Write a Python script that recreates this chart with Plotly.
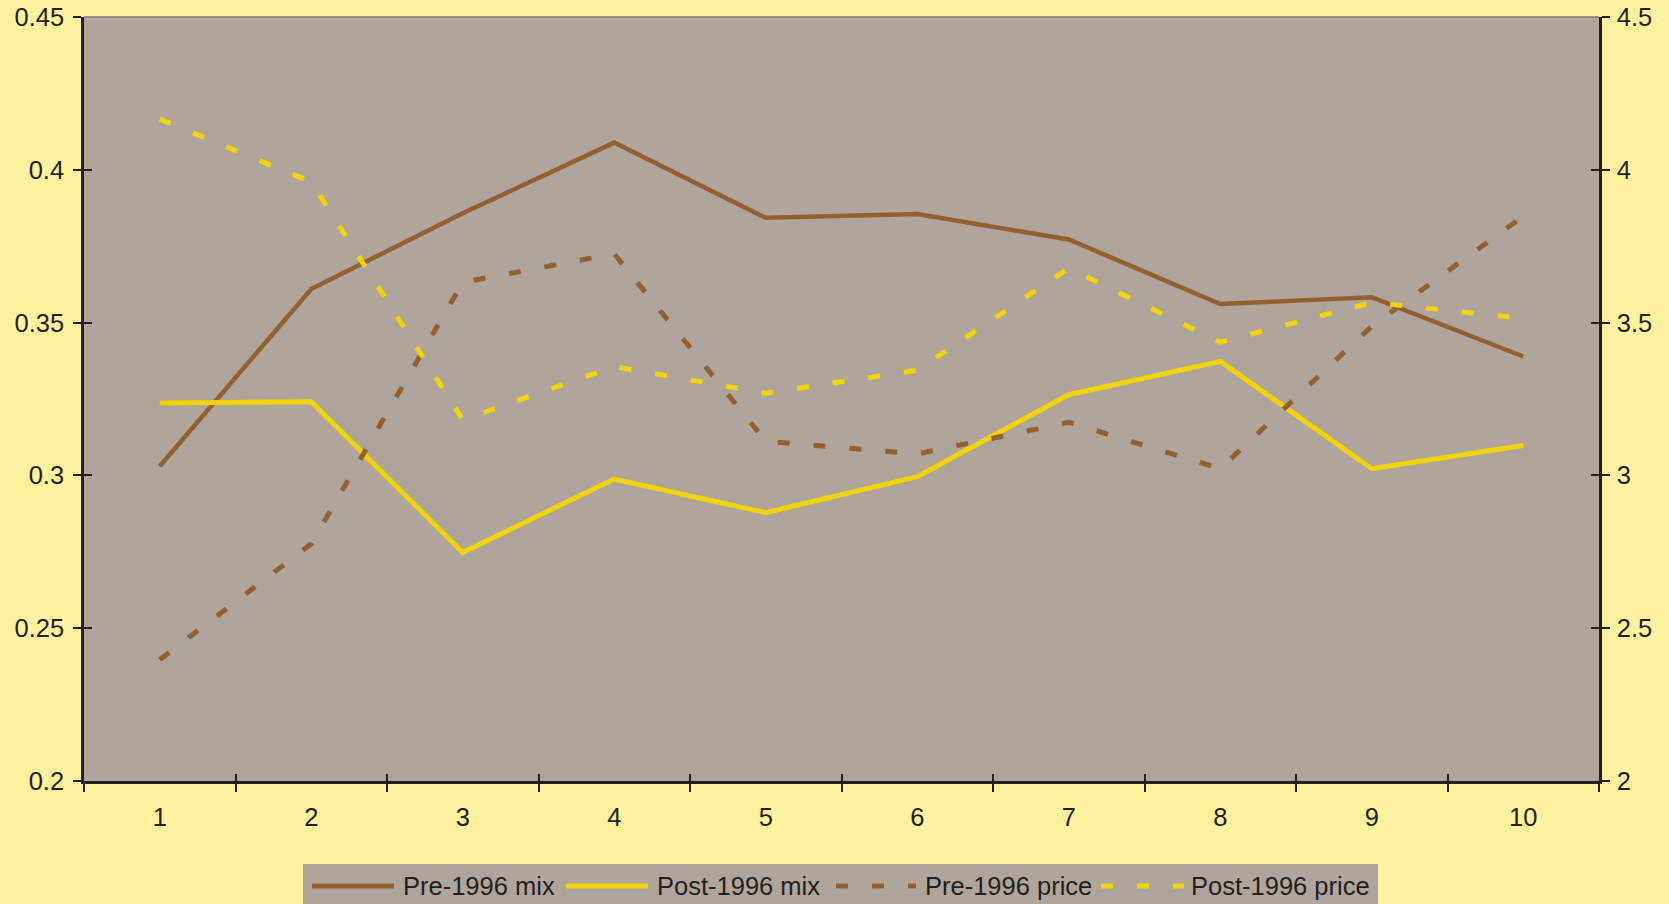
import plotly.graph_objects as go

categories = ["1", "2", "3", "4", "5", "6", "7", "8", "9", "10"]
pre_mix = [0.3030, 0.3610, 0.3858, 0.4089, 0.3843, 0.3855, 0.3772, 0.3561, 0.3583, 0.3389]
post_mix = [0.3237, 0.3241, 0.2748, 0.2988, 0.2878, 0.2996, 0.3264, 0.3373, 0.3022, 0.3098]
pre_price = [2.397, 2.776, 3.632, 3.725, 3.112, 3.070, 3.174, 3.022, 3.488, 3.848]
post_price = [4.166, 3.960, 3.182, 3.356, 3.269, 3.344, 3.678, 3.436, 3.566, 3.514]
series_names = ["Pre-1996 mix", "Post-1996 mix", "Pre-1996 price", "Post-1996 price"]
left_ticks = [0.2, 0.25, 0.3, 0.35, 0.4, 0.45]
left_labels = ["0.2", "0.25", "0.3", "0.35", "0.4", "0.45"]
right_ticks = [2, 2.5, 3, 3.5, 4, 4.5]
right_labels = ["2", "2.5", "3", "3.5", "4", "4.5"]

BROWN = "#93602F"
YELLOW = "#F2D400"
PLOT_BG = "#B0A59C"
PAPER_BG = "#FFF29E"
INK = "#231F20"
FONT = "Liberation Sans, Arial, sans-serif"
DASH = "12px,24px"
FS = 25.5

W, H = 1669, 904
ML, MR, MT, MB = 84, 70, 17, 123
PW, PH = W - ML - MR, H - MT - MB


def px_x(px):
    return (px - ML) / PW


def px_y(py):
    return (H - MB - py) / PH


fig = go.Figure()
fig.add_trace(go.Scatter(x=categories, y=pre_mix, name=series_names[0], mode="lines",
                         line=dict(color=BROWN, width=4.5), yaxis="y"))
fig.add_trace(go.Scatter(x=categories, y=post_mix, name=series_names[1], mode="lines",
                         line=dict(color=YELLOW, width=5), yaxis="y"))
fig.add_trace(go.Scatter(x=categories, y=pre_price, name=series_names[2], mode="lines",
                         line=dict(color=BROWN, width=5, dash=DASH), yaxis="y2"))
fig.add_trace(go.Scatter(x=categories, y=post_price, name=series_names[3], mode="lines",
                         line=dict(color=YELLOW, width=5, dash=DASH), yaxis="y2"))
# helper traces so the inner-tick overlay axes are drawn
fig.add_trace(go.Scatter(x=[], y=[], xaxis="x2", yaxis="y3", showlegend=False, hoverinfo="skip"))
fig.add_trace(go.Scatter(x=[], y=[], xaxis="x2", yaxis="y4", showlegend=False, hoverinfo="skip"))

tickfont = dict(family=FONT, size=FS, color=INK)
common = dict(showgrid=False, zeroline=False, automargin=False, tickwidth=2, tickcolor=INK)
fig.update_layout(
    width=W, height=H,
    margin=dict(l=ML, r=MR, t=MT, b=MB),
    paper_bgcolor=PAPER_BG, plot_bgcolor=PLOT_BG,
    showlegend=False,
    font=dict(family=FONT, size=FS, color=INK),
    xaxis=dict(type="category", categoryarray=categories, range=[-0.5, 9.5],
               tickson="boundaries", ticks="outside", ticklen=8, ticklabelstandoff=12,
               showline=True, linecolor=INK, linewidth=2.5, tickfont=tickfont, **common),
    xaxis2=dict(type="category", categoryarray=categories, range=[-0.5, 9.5],
                overlaying="x", side="bottom", tickson="boundaries", ticks="inside",
                ticklen=7, showticklabels=False, showline=False, **common),
    yaxis=dict(range=[0.2, 0.45], tickvals=left_ticks, ticktext=left_labels,
               ticks="outside", ticklen=8, ticklabelstandoff=4, showline=True,
               linecolor=INK, linewidth=2.5, tickfont=tickfont, **common),
    yaxis2=dict(range=[2, 4.5], tickvals=right_ticks, ticktext=right_labels,
                overlaying="y", side="right", ticks="outside", ticklen=8, ticklabelstandoff=2,
                showline=True, linecolor=INK, linewidth=2.5, tickfont=tickfont, **common),
    yaxis3=dict(range=[0.2, 0.45], tickvals=left_ticks, overlaying="y", side="left",
                ticks="inside", ticklen=8, showticklabels=False, showline=False, **common),
    yaxis4=dict(range=[2, 4.5], tickvals=right_ticks, overlaying="y", side="right",
                ticks="inside", ticklen=8, showticklabels=False, showline=False, **common),
)

shapes = []
# top border of plot area
shapes.append(dict(type="line", xref="paper", yref="paper", x0=0, x1=1, y0=1, y1=1,
                   line=dict(color="#7F7A76", width=1.5)))
# custom legend box
shapes.append(dict(type="rect", xref="paper", yref="paper",
                   x0=px_x(303), x1=px_x(1378), y0=px_y(864), y1=px_y(930),
                   fillcolor=PLOT_BG, line=dict(width=0), layer="below"))

legend_samples = [(312, 394, BROWN, "solid"), (566, 648, YELLOW, "solid"),
                  (836, 916, BROWN, DASH), (1101, 1184, YELLOW, DASH)]
legend_text_x = [401, 655, 923, 1189]
ly = 886
annotations = []
for (x0, x1, col, dash), tx, name in zip(legend_samples, legend_text_x, series_names):
    shapes.append(dict(type="line", xref="paper", yref="paper",
                       x0=px_x(x0), x1=px_x(x1), y0=px_y(ly), y1=px_y(ly),
                       line=dict(color=col, width=5, dash=dash)))
    annotations.append(dict(text=name, xref="paper", yref="paper", x=px_x(tx),
                            y=px_y(ly), xanchor="left", yanchor="middle", showarrow=False,
                            font=dict(family=FONT, size=25.5, color=INK)))

fig.update_layout(shapes=shapes, annotations=annotations)
fig.write_html("out.html")
